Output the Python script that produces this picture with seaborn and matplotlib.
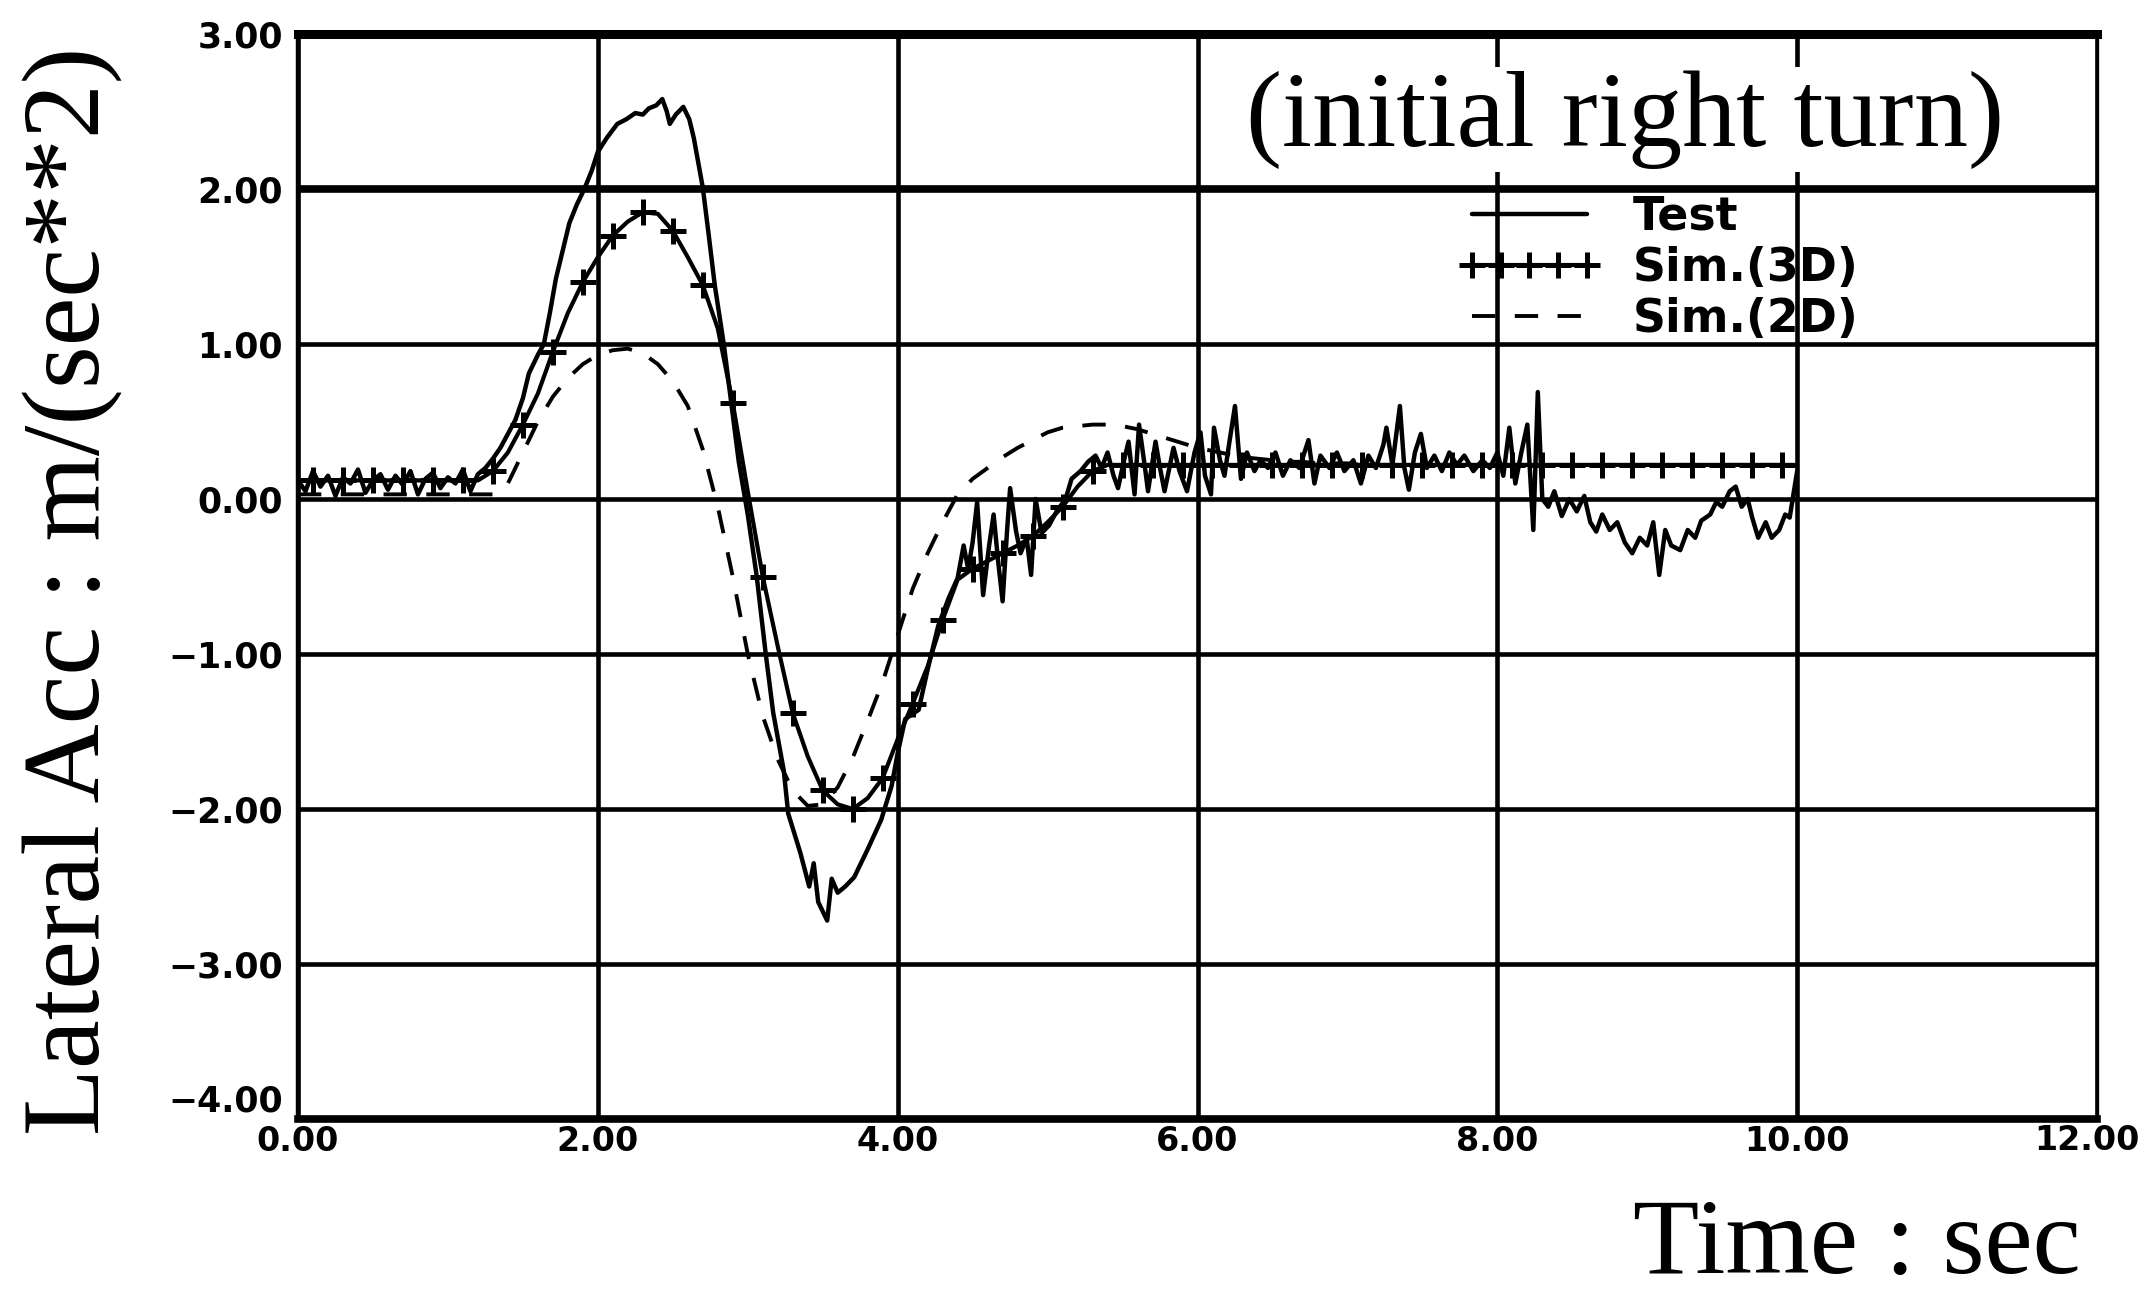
import matplotlib
matplotlib.use("Agg")
import matplotlib.pyplot as plt
import seaborn as sns
from matplotlib.ticker import MultipleLocator

# ---------------- data ----------------
test_t = [
    0.00, 0.05, 0.10, 0.15, 0.20, 0.25, 0.30, 0.35, 0.40, 0.45, 0.50, 0.55, 0.60,
    0.65, 0.70, 0.75, 0.80, 0.85, 0.90, 0.95, 1.00, 1.05, 1.10, 1.15, 1.20, 1.25,
    1.30, 1.35, 1.40, 1.45, 1.50, 1.54, 1.60, 1.64, 1.68, 1.72, 1.77, 1.81, 1.86,
    1.91, 1.96, 2.00, 2.06, 2.13, 2.19, 2.25, 2.30, 2.34, 2.39, 2.43, 2.46, 2.48,
    2.52, 2.57, 2.61, 2.64, 2.67, 2.70, 2.74, 2.78, 2.84, 2.89, 2.94, 3.00, 3.06, 3.12,
    3.17, 3.24, 3.27, 3.35, 3.41, 3.44, 3.47, 3.53, 3.56, 3.60, 3.65, 3.71, 3.80,
    3.89, 3.96, 4.00, 4.05, 4.14, 4.20, 4.27, 4.34,
    4.40, 4.44, 4.47, 4.50, 4.53, 4.57, 4.61, 4.64, 4.67, 4.70, 4.73, 4.75, 4.79,
    4.82, 4.86, 4.89, 4.92, 4.96, 5.01, 5.06, 5.12, 5.16, 5.22, 5.27, 5.32,
    5.36, 5.40, 5.44, 5.47, 5.51, 5.54, 5.58, 5.61, 5.65, 5.67, 5.72, 5.75, 5.78,
    5.84, 5.88, 5.93, 5.98, 6.02, 6.05, 6.09, 6.11, 6.15, 6.18, 6.21, 6.25, 6.29,
    6.33, 6.38, 6.42, 6.47, 6.52, 6.57, 6.62, 6.68, 6.74, 6.78, 6.82, 6.88, 6.93,
    6.98, 7.04, 7.09, 7.14, 7.19, 7.24, 7.26, 7.30, 7.35, 7.38, 7.41, 7.45, 7.49,
    7.53, 7.58, 7.63, 7.68, 7.73, 7.78, 7.84, 7.90, 7.95, 8.00, 8.04, 8.08, 8.12,
    8.16, 8.20, 8.24, 8.27, 8.30,
    8.34, 8.38, 8.43, 8.48, 8.53, 8.58, 8.62, 8.66, 8.70, 8.75, 8.80, 8.85, 8.90,
    8.95, 9.00, 9.04, 9.08, 9.12, 9.16, 9.22, 9.27, 9.32, 9.36, 9.42, 9.46, 9.50,
    9.55, 9.59, 9.63, 9.67, 9.70, 9.74, 9.79, 9.83, 9.88, 9.92, 9.95, 10.00,
]
test_v = [
    0.12, 0.05, 0.18, 0.08, 0.15, 0.02, 0.14, 0.10, 0.19, 0.04, 0.12, 0.16, 0.06,
    0.15, 0.09, 0.18, 0.03, 0.13, 0.17, 0.07, 0.14, 0.10, 0.19, 0.05, 0.16, 0.20,
    0.26, 0.33, 0.42, 0.51, 0.65, 0.81, 0.93, 1.00, 1.20, 1.42, 1.62, 1.78, 1.90,
    2.00, 2.12, 2.24, 2.33, 2.42, 2.45, 2.49, 2.48, 2.52, 2.54, 2.58, 2.50, 2.42,
    2.48, 2.53, 2.45, 2.33, 2.17, 2.01, 1.70, 1.38, 1.00, 0.62, 0.24, -0.10, -0.50, -1.00,
    -1.38, -1.75, -2.03, -2.28, -2.50, -2.35, -2.60, -2.72, -2.45, -2.54, -2.50, -2.44, -2.26,
    -2.07, -1.85, -1.64, -1.42, -1.36, -1.10, -0.82, -0.64,
    -0.51, -0.30, -0.45, -0.28, -0.02, -0.62, -0.30, -0.10, -0.40, -0.66, -0.20, 0.07, -0.21,
    -0.35, -0.25, -0.49, 0.00, -0.22, -0.17, -0.08, 0.00, 0.13, 0.18, 0.24, 0.28,
    0.20, 0.30, 0.15, 0.07, 0.25, 0.37, 0.03, 0.48, 0.20, 0.05, 0.37, 0.20, 0.05,
    0.33, 0.18, 0.05, 0.30, 0.43, 0.15, 0.03, 0.46, 0.25, 0.15, 0.35, 0.60, 0.13,
    0.30, 0.18, 0.25, 0.20, 0.30, 0.15, 0.25, 0.20, 0.38, 0.10, 0.28, 0.20, 0.30,
    0.18, 0.25, 0.10, 0.28, 0.20, 0.35, 0.46, 0.22, 0.60, 0.20, 0.06, 0.30, 0.42,
    0.20, 0.28, 0.18, 0.30, 0.22, 0.28, 0.18, 0.25, 0.20, 0.30, 0.15, 0.46, 0.10,
    0.30, 0.48, -0.20, 0.69, 0.00,
    -0.05, 0.05, -0.11, 0.00, -0.08, 0.02, -0.15, -0.21, -0.10, -0.20, -0.15, -0.28, -0.35,
    -0.25, -0.30, -0.15, -0.49, -0.20, -0.30, -0.33, -0.20, -0.25, -0.14, -0.10, -0.02, -0.05,
    0.05, 0.08, -0.05, 0.00, -0.12, -0.25, -0.15, -0.25, -0.20, -0.10, -0.12, 0.18,
]

sim_t = [
    0.0, 0.1, 0.2, 0.3, 0.4, 0.5, 0.6, 0.7, 0.8, 0.9, 1.0, 1.1, 1.2, 1.3, 1.4, 1.5, 1.6,
    1.7, 1.8, 1.9, 2.0, 2.1, 2.2, 2.3, 2.4, 2.5, 2.6, 2.7, 2.8, 2.9, 3.0, 3.1, 3.2, 3.3,
    3.4, 3.5, 3.6, 3.7, 3.8, 3.9, 4.0, 4.1, 4.2, 4.3, 4.4, 4.5, 4.6, 4.7, 4.8, 4.9, 5.0,
    5.1, 5.2, 5.3, 5.4, 5.5, 5.6, 5.7, 5.8, 5.9, 6.0, 6.1, 6.2, 6.3, 6.4, 6.5, 6.6, 6.7,
    6.8, 6.9, 7.0, 7.1, 7.2, 7.3, 7.4, 7.5, 7.6, 7.7, 7.8, 7.9, 8.0, 8.1, 8.2, 8.3, 8.4,
    8.5, 8.6, 8.7, 8.8, 8.9, 9.0, 9.1, 9.2, 9.3, 9.4, 9.5, 9.6, 9.7, 9.8, 9.9, 10.0,
]
sim3d_v = [
    0.12, 0.12, 0.12, 0.12, 0.12, 0.12, 0.12, 0.12, 0.12, 0.12, 0.12, 0.12, 0.12,
    0.18, 0.30, 0.48, 0.68, 0.95, 1.20, 1.40, 1.56, 1.70, 1.79, 1.85, 1.84, 1.73,
    1.56, 1.38, 1.10, 0.62, 0.05, -0.50, -0.95, -1.38, -1.66, -1.88, -1.97, -2.00,
    -1.93, -1.80, -1.55, -1.32, -1.08, -0.78, -0.52, -0.45, -0.40, -0.35, -0.30,
    -0.24, -0.15, -0.05, 0.08, 0.18,
    0.22, 0.22, 0.22, 0.22, 0.22, 0.22, 0.22, 0.22, 0.22, 0.22, 0.22, 0.22, 0.22,
    0.22, 0.22, 0.22, 0.22, 0.22, 0.22, 0.22, 0.22, 0.22, 0.22, 0.22, 0.22, 0.22,
    0.22, 0.22, 0.22, 0.22, 0.22, 0.22, 0.22, 0.22, 0.22, 0.22, 0.22, 0.22, 0.22,
    0.22, 0.22, 0.22, 0.22, 0.22, 0.22, 0.22, 0.22,
]
sim2d_v = [
    0.03, 0.03, 0.03, 0.03, 0.03, 0.03, 0.03, 0.03, 0.03, 0.03, 0.03, 0.03, 0.03, 0.03,
    0.10, 0.30, 0.50, 0.66, 0.78, 0.87, 0.93, 0.96, 0.97, 0.94, 0.87, 0.76, 0.60,
    0.32, -0.05, -0.50, -1.00, -1.40, -1.68, -1.88, -1.98, -1.97, -1.86, -1.67, -1.43,
    -1.18, -0.88, -0.58, -0.35, -0.15, 0.03, 0.13, 0.20, 0.27, 0.33, 0.38, 0.43,
    0.46, 0.47, 0.48, 0.48, 0.47, 0.45, 0.42, 0.39, 0.36, 0.33, 0.31, 0.29, 0.27,
    0.26, 0.25,
    0.24, 0.24, 0.23, 0.23, 0.23, 0.22, 0.22, 0.22, 0.22, 0.22, 0.22, 0.22, 0.22,
    0.22, 0.22, 0.22, 0.22, 0.22, 0.22, 0.22, 0.22, 0.22, 0.22, 0.22, 0.22, 0.22,
    0.22, 0.22, 0.22, 0.22, 0.22, 0.22, 0.22, 0.22, 0.22,
]

x_ticks = [0, 2, 4, 6, 8, 10, 12]
x_tick_labels = ["0.00", "2.00", "4.00", "6.00", "8.00", "10.00", "12.00"]
y_ticks = [-4, -3, -2, -1, 0, 1, 2, 3]
y_tick_labels = ["\u22124.00", "\u22123.00", "\u22122.00", "\u22121.00",
                 "0.00", "1.00", "2.00", "3.00"]
series_labels = ["Test", "Sim.(3D)", "Sim.(2D)"]
title_text = "(initial right turn)"
x_label = "Time : sec"
y_label = "Lateral Acc : m/(sec**2)"

# ---------------- figure ----------------
sns.set_theme(style="white")
plt.rcParams['font.family'] = ['DejaVu Sans']

W, H = 2145, 1297
fig = plt.figure(figsize=(W / 100, H / 100), dpi=100)
ax = fig.add_axes([298 / W, 1 - 1119 / H, 1799 / W, 1085 / H])

sns.lineplot(x=test_t, y=test_v, ax=ax, color="black", linewidth=3.2,
             label=series_labels[0], errorbar=None, sort=False, zorder=4)
sns.lineplot(x=sim_t, y=sim3d_v, ax=ax, color="black", linewidth=3.0,
             marker="+", markersize=19, markeredgewidth=3.6,
             markeredgecolor="black", markevery=(1, 2),
             label=series_labels[1], errorbar=None, sort=False, zorder=4)
sns.lineplot(x=sim_t, y=sim2d_v, ax=ax, color="black", linewidth=2.8,
             linestyle=(0, (6, 5)), label=series_labels[2], errorbar=None,
             sort=False, zorder=3)

ax.set_xlim(0, 12)
ax.set_ylim(-4, 3)
ax.set_xticks(x_ticks)
ax.set_yticks(y_ticks)
# last x tick label is drawn separately so it stays inside the figure
ax.set_xticklabels(x_tick_labels[:-1] + [""], fontsize=24, fontweight="bold")
ylabels = ax.set_yticklabels(y_tick_labels, fontsize=25, fontweight="bold")
ylabels[0].set_verticalalignment("bottom")  # keep "-4.00" clear of "0.00"
ax.annotate(x_tick_labels[-1], xy=(x_ticks[-1], -4), xycoords="data",
            xytext=(31, -3.5), textcoords="offset points", ha="right",
            va="top", fontsize=24, fontweight="bold", color="black",
            annotation_clip=False)
ax.xaxis.set_minor_locator(MultipleLocator(0.2))
ax.yaxis.set_minor_locator(MultipleLocator(0.1))
ax.tick_params(axis="both", which="both", direction="in", color="black",
               colors="black")
ax.tick_params(axis="x", which="major", length=9, width=2.5, pad=4)
ax.tick_params(axis="y", which="major", length=9, width=2.5, pad=11)
ax.tick_params(axis="both", which="minor", length=7, width=2.4)

ax.grid(True, which="major", color="black", linewidth=3.3)
for gl, yv in zip(ax.get_ygridlines(), y_ticks):
    if yv == 2:
        gl.set_linewidth(5.5)

for side, lw in (("top", 6.5), ("bottom", 5.5), ("left", 3.2), ("right", 2.4)):
    ax.spines[side].set_visible(True)
    ax.spines[side].set_color("black")
    ax.spines[side].set_linewidth(lw)

ax.set_xlabel(x_label, fontsize=78, family="Liberation Serif", color="black")
ax.set_ylabel(y_label, fontsize=79, family="Liberation Serif", color="black")
ax.xaxis.set_label_coords(0.8666, -0.073)
ax.yaxis.set_label_coords(-0.097, 0.487)

ax.text(0.7376, 0.921, title_text, transform=ax.transAxes, ha="center",
        va="center", fontsize=78, family="Liberation Serif", color="black",
        bbox=dict(facecolor="white", edgecolor="none", pad=2), zorder=6)

leg = ax.legend(loc="upper left", bbox_to_anchor=(0.645, 0.852),
                frameon=False, prop={"weight": "bold", "size": 33},
                handlelength=3.1, handletextpad=0.7, labelspacing=0.14,
                numpoints=5, borderaxespad=0, borderpad=0)
for txt in leg.get_texts():
    txt.set_color("black")

fig.savefig("out.png", dpi=100, facecolor="white")
